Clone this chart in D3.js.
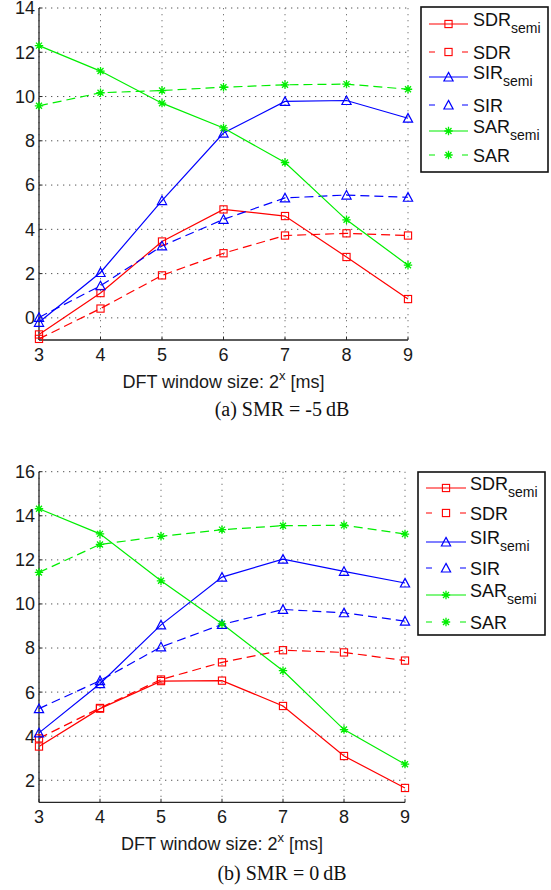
<!DOCTYPE html>
<html><head><meta charset="utf-8">
<script src="https://cdn.jsdelivr.net/npm/d3@7"></script>
<style>body{margin:0;background:#fff}svg{display:block}</style>
</head><body><svg id="c" width="551" height="890"></svg>
<script>
// ---- data ----
const windowExp = [3, 4, 5, 6, 7, 8, 9];
const yTicksA = [0, 2, 4, 6, 8, 10, 12, 14];
const yTicksB = [2, 4, 6, 8, 10, 12, 14, 16];
const seriesNames = ["SDR", "SDR", "SIR", "SIR", "SAR", "SAR"];
const seriesSubs = ["semi", "", "semi", "", "semi", ""];
const captionA = "(a) SMR = -5\u2009dB";
const captionB = "(b) SMR = 0\u2009dB";
const xLabelMain = "DFT window size: 2";
const xLabelSup = "x";
const xLabelTail = " [ms]";

// (a) SMR = -5 dB
const sdrSemiA = [-0.75, 1.12, 3.45, 4.9, 4.6, 2.75, 0.85];
const sdrA     = [-0.95, 0.42, 1.92, 2.92, 3.72, 3.82, 3.72];
const sirSemiA = [-0.2, 2.05, 5.3, 8.35, 9.78, 9.82, 9.02];
const sirA     = [0.02, 1.45, 3.25, 4.45, 5.42, 5.55, 5.45];
const sarSemiA = [12.3, 11.15, 9.7, 8.58, 7.02, 4.43, 2.38];
const sarA     = [9.58, 10.17, 10.27, 10.42, 10.53, 10.56, 10.33];

// (b) SMR = 0 dB
const sdrSemiB = [3.53, 5.25, 6.5, 6.52, 5.37, 3.1, 1.65];
const sdrB     = [3.9, 5.28, 6.57, 7.35, 7.9, 7.8, 7.43];
const sirSemiB = [4.15, 6.38, 9.05, 11.22, 12.03, 11.48, 10.95];
const sirB     = [5.25, 6.52, 8.05, 9.07, 9.75, 9.6, 9.22];
const sarSemiB = [14.32, 13.18, 11.05, 9.1, 6.97, 4.3, 2.73];
const sarB     = [11.43, 12.7, 13.07, 13.37, 13.55, 13.57, 13.17];

// ---- styles ----
const colors = ["#ff0000", "#ff0000", "#0000ff", "#0000ff", "#00ee00", "#00ee00"];
const dashed = [false, true, false, true, false, true];
const markers = ["square", "square", "triangle", "triangle", "star", "star"];

const panels = [
  { data: [sdrSemiA, sdrA, sirSemiA, sirA, sarSemiA, sarA], yDomain: [-1, 14], yTicks: yTicksA,
    left: 39, right: 408, top: 8, bottom: 340,
    leg: { x0: 421, y0: 7, x1: 548, y1: 172, lx0: 429, lx1: 468, tx: 473, rows: [24, 52, 77, 105, 131, 155] },
    caption: captionA, capY: 416 },
  { data: [sdrSemiB, sdrB, sirSemiB, sirB, sarSemiB, sarB], yDomain: [1, 16], yTicks: yTicksB,
    left: 39, right: 405, top: 471.7, bottom: 802.3,
    leg: { x0: 418, y0: 472, x1: 545, y1: 635, lx0: 426, lx1: 466, tx: 470, rows: [488, 513, 542, 568, 595, 622] },
    caption: captionB, capY: 880 }
];

const svg = d3.select("#c");
const FONT = "'Liberation Sans', Arial, Helvetica, sans-serif";
const SERIF = "'Liberation Serif', 'Times New Roman', serif";

function drawMarker(g, type, cx, cy, color) {
  if (type === "square") {
    g.append("rect").attr("x", cx - 3.6).attr("y", cy - 3.6).attr("width", 7.2).attr("height", 7.2)
      .attr("fill", "none").attr("stroke", color).attr("stroke-width", 1.1);
  } else if (type === "triangle") {
    g.append("path").attr("d", `M${cx},${cy - 4.6}L${cx + 4.6},${cy + 4}L${cx - 4.6},${cy + 4}Z`)
      .attr("fill", "none").attr("stroke", color).attr("stroke-width", 1.2);
  } else {
    const r = 4.2, d = 3.0;
    g.append("path").attr("d",
      `M${cx - r},${cy}L${cx + r},${cy}M${cx},${cy - r}L${cx},${cy + r}` +
      `M${cx - d},${cy - d}L${cx + d},${cy + d}M${cx - d},${cy + d}L${cx + d},${cy - d}`)
      .attr("fill", "none").attr("stroke", color).attr("stroke-width", 1.3);
  }
}

panels.forEach(p => {
  const x = d3.scaleLinear().domain([3, 9]).range([p.left, p.right]);
  const y = d3.scaleLinear().domain(p.yDomain).range([p.bottom, p.top]);
  const g = svg.append("g");

  // grid
  g.selectAll(".vg").data(windowExp).enter().append("line")
    .attr("x1", d => x(d)).attr("x2", d => x(d)).attr("y1", p.top).attr("y2", p.bottom)
    .attr("stroke", "#777").attr("stroke-width", 1).attr("stroke-dasharray", "1.3,4.7");
  g.selectAll(".hg").data(p.yTicks).enter().append("line")
    .attr("x1", p.left).attr("x2", p.right).attr("y1", d => y(d)).attr("y2", d => y(d))
    .attr("stroke", "#555").attr("stroke-width", 1).attr("stroke-dasharray", "1.3,4.7");

  // axes lines
  g.append("line").attr("x1", p.left).attr("x2", p.left).attr("y1", p.top).attr("y2", p.bottom)
    .attr("stroke", "#262626").attr("stroke-width", 1.3);
  g.append("line").attr("x1", p.left).attr("x2", p.right).attr("y1", p.bottom).attr("y2", p.bottom)
    .attr("stroke", "#262626").attr("stroke-width", 1.3);
  // inward ticks
  g.selectAll(".yt").data(p.yTicks).enter().append("line")
    .attr("x1", p.left).attr("x2", p.left + 3.5).attr("y1", d => y(d)).attr("y2", d => y(d))
    .attr("stroke", "#262626");
  g.selectAll(".xt").data(windowExp).enter().append("line")
    .attr("x1", d => x(d)).attr("x2", d => x(d)).attr("y1", p.bottom).attr("y2", p.bottom - 3.5)
    .attr("stroke", "#262626");

  // tick labels
  g.selectAll(".yl").data(p.yTicks).enter().append("text")
    .attr("x", p.left - 4).attr("y", d => y(d) + 6.4).attr("text-anchor", "end")
    .attr("font-family", FONT).attr("font-size", 18).attr("fill", "#1a1a1a").text(d => d);
  g.selectAll(".xl").data(windowExp).enter().append("text")
    .attr("x", d => x(d)).attr("y", p.bottom + 20.5).attr("text-anchor", "middle")
    .attr("font-family", FONT).attr("font-size", 18).attr("fill", "#1a1a1a").text(d => d);

  // x label
  const xl = g.append("text").attr("x", (p.left + p.right) / 2).attr("y", p.bottom + 47.5)
    .attr("text-anchor", "middle").attr("font-family", FONT).attr("font-size", 18).attr("fill", "#1a1a1a");
  xl.append("tspan").text(xLabelMain);
  xl.append("tspan").attr("dy", -8).attr("font-size", 13).text(xLabelSup);
  xl.append("tspan").attr("dy", 8).text(xLabelTail);

  // caption
  g.append("text").attr("x", 282).attr("y", p.capY).attr("text-anchor", "middle")
    .attr("font-family", SERIF).attr("font-size", 20).attr("fill", "#111").text(p.caption);

  // series lines
  const line = d3.line().x((d, i) => x(windowExp[i])).y(d => y(d));
  p.data.forEach((vals, s) => {
    g.append("path").attr("d", line(vals)).attr("fill", "none").attr("stroke", colors[s])
      .attr("stroke-width", 1.2).attr("stroke-dasharray", dashed[s] ? "9,5" : null);
  });
  p.data.forEach((vals, s) => {
    vals.forEach((v, i) => drawMarker(g, markers[s], x(windowExp[i]), y(v), colors[s]));
  });

  // legend
  const L = p.leg;
  g.append("rect").attr("x", L.x0).attr("y", L.y0).attr("width", L.x1 - L.x0).attr("height", L.y1 - L.y0)
    .attr("fill", "#fff").attr("stroke", "#111").attr("stroke-width", 1.6);
  seriesNames.forEach((nm, s) => {
    const ry = L.rows[s];
    g.append("line").attr("x1", L.lx0).attr("x2", L.lx1).attr("y1", ry).attr("y2", ry)
      .attr("stroke", colors[s]).attr("stroke-width", 1.2)
      .attr("stroke-dasharray", dashed[s] ? `6,${(L.lx1 - L.lx0) - 12}` : null);
    drawMarker(g, markers[s], (L.lx0 + L.lx1) / 2, ry, colors[s]);
    const t = g.append("text").attr("x", L.tx).attr("font-family", FONT).attr("font-size", 18).attr("fill", "#111");
    if (seriesSubs[s]) {
      t.attr("y", ry + 1.5);
      t.append("tspan").text(nm);
      t.append("tspan").attr("dy", 7).attr("font-size", 14).text(seriesSubs[s]);
    } else {
      t.attr("y", ry + 6.5).text(nm);
    }
  });
});
</script>
</body></html>
